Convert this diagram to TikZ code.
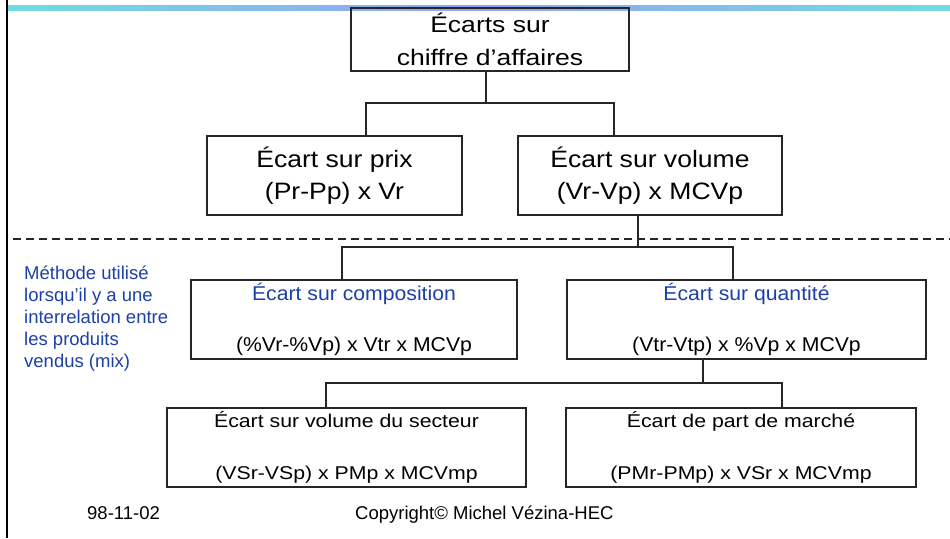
\documentclass[tikz,border=0pt]{standalone}
\usepackage{fontspec}
\setmainfont{Liberation Sans}
\newfontfamily\fontA[FakeStretch=1.18]{Liberation Sans}
\newfontfamily\fontB[FakeStretch=1.12]{Liberation Sans}
\newfontfamily\fontC[FakeStretch=1.06]{Liberation Sans}
\newfontfamily\fontD[FakeStretch=1.15]{Liberation Sans}
\definecolor{notecol}{RGB}{28,64,168}
\definecolor{barcyan}{RGB}{112,220,224}
\definecolor{barblue}{RGB}{148,162,248}

\tikzset{
  ecart/.style={draw=black!85, line width=1.3pt, inner sep=0pt, align=center},
  link/.style={draw=black!85, line width=1.3pt},
}

\begin{document}
\begin{tikzpicture}[x=1pt,y=-1pt]
\useasboundingbox (0,0) rectangle (950,538);

% bandeau et marge
\shade[left color=barcyan, right color=barcyan, middle color=barblue] (8,5) rectangle (950,10);
\draw[line width=2.5pt] (7,0) -- (7,538);

\node[ecart, minimum width=278pt, minimum height=63pt, font=\fontA\fontsize{22.5}{33}\selectfont] (ca) at (490,39.5) {Écarts sur\\chiffre d’affaires};

\node[ecart, minimum width=255pt, minimum height=79pt, font=\fontB\fontsize{23.7}{32}\selectfont] (prix) at (334.5,175.5) {Écart sur prix\\(Pr-Pp) x Vr};
\node[ecart, minimum width=264pt, minimum height=79pt, font=\fontB\fontsize{23.7}{32}\selectfont] (vol) at (650,175.5) {Écart sur volume\\(Vr-Vp) x MCVp};

\draw[dash pattern=on 8pt off 5pt, line width=1.2pt, black!85] (13,239) -- (950,239);

\node[align=left, anchor=west, inner sep=0pt, text=notecol, font=\fontsize{18.5}{22}\selectfont] (note) at (24,319) {Méthode utilisé\\lorsqu’il y a une\\interrelation entre\\les produits\\vendus (mix)};

\node[ecart, minimum width=326pt, minimum height=79pt, font=\fontC\fontsize{20}{25.5}\selectfont] (comp) at (354,319.5) {\textcolor{notecol}{Écart sur composition}\\\mbox{}\\(\%Vr-\%Vp) x Vtr x MCVp};
\node[ecart, minimum width=359pt, minimum height=79pt, font=\fontC\fontsize{20}{25.5}\selectfont] (quant) at (746.5,319.5) {\textcolor{notecol}{Écart sur quantité}\\\mbox{}\\(Vtr-Vtp) x \%Vp x MCVp};

\node[ecart, minimum width=359pt, minimum height=79pt, font=\fontD\fontsize{18.5}{26.3}\selectfont] (secteur) at (346.5,447.5) {Écart sur volume du secteur\\\mbox{}\\(VSr-VSp) x PMp x MCVmp};
\node[ecart, minimum width=350pt, minimum height=79pt, font=\fontD\fontsize{18.5}{26.3}\selectfont] (marche) at (741,447.5) {Écart de part de marché\\\mbox{}\\(PMr-PMp) x VSr x MCVmp};

\node[anchor=base west, inner sep=0pt, font=\fontsize{18.5}{22}\selectfont] (date) at (87,519) {98-11-02};
\node[anchor=base west, inner sep=0pt, font=\fontsize{18.5}{22}\selectfont] (copy) at (355,519) {Copyright© Michel Vézina-HEC};

% liaisons
\coordinate (b0) at (486,103);
\coordinate (b1) at (366,103);
\coordinate (b2) at (614,103);
\draw[link] (ca.south -| b0) -- (b0);
\draw[link] (prix.north -| b1) -- (b1) -- (b2) -- (vol.north -| b2);

\coordinate (c0) at (638,247);
\coordinate (c1) at (342,247);
\coordinate (c2) at (733,247);
\draw[link] (vol.south -| c0) -- (c0);
\draw[link] (comp.north -| c1) -- (c1) -- (c2) -- (quant.north -| c2);

\coordinate (d0) at (703,383);
\coordinate (d1) at (326,383);
\coordinate (d2) at (782,383);
\draw[link] (quant.south -| d0) -- (d0);
\draw[link] (secteur.north -| d1) -- (d1) -- (d2) -- (marche.north -| d2);
\end{tikzpicture}
\end{document}
